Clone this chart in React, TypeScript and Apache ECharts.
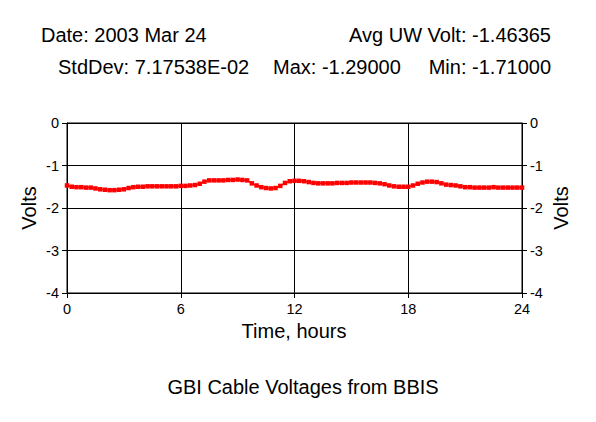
import React, { useEffect, useRef } from "react";
import * as echarts from "echarts";

const stepHours = 0.25;
const volts: number[] = [
  -1.47, -1.5, -1.51, -1.51, -1.52, -1.52, -1.54, -1.56, -1.57, -1.58, -1.58, -1.57, -1.56,
  -1.53, -1.51, -1.5, -1.5, -1.49, -1.49, -1.49, -1.49, -1.49, -1.49, -1.49, -1.48, -1.48,
  -1.47, -1.46, -1.43, -1.38, -1.35, -1.35, -1.35, -1.35, -1.34, -1.34, -1.33, -1.34, -1.35,
  -1.42, -1.47, -1.51, -1.53, -1.54, -1.53, -1.48, -1.41, -1.37, -1.36,
  -1.36, -1.37, -1.39, -1.41, -1.42, -1.42, -1.42, -1.42, -1.41, -1.41, -1.41, -1.4, -1.4,
  -1.4, -1.4, -1.4, -1.41, -1.42, -1.44, -1.47, -1.49, -1.5, -1.5, -1.5, -1.47, -1.43, -1.4,
  -1.38, -1.38, -1.39, -1.42, -1.45, -1.46, -1.47, -1.49, -1.51,
  -1.51, -1.52, -1.52, -1.52, -1.52, -1.51, -1.52, -1.52, -1.52, -1.52, -1.52, -1.52,
];
const xTicks = { min: 0, max: 24, interval: 6 };
const yTicks = { min: -4, max: 0, interval: 1 };
const headerLeft = ["Date: 2003 Mar 24", "StdDev: 7.17538E-02"];
const headerRight = ["Avg UW Volt: -1.46365", "Max: -1.29000", "Min: -1.71000"];
const xName = "Time, hours";
const yName = "Volts";
const chartTitle = "GBI Cable Voltages from BBIS";

const FONT = "Liberation Sans, Arial, Helvetica, sans-serif";

export default function App() {
  const ref = useRef<HTMLDivElement>(null);
  useEffect(() => {
    if (!ref.current) return;
    const chart = echarts.init(ref.current, null, { renderer: "svg" });
    const data = volts.map((v, i) => [i * stepHours, v]);
    const txt = (text: string, x: number, y: number, align: string, extra: any = {}) => ({
      type: "text",
      x,
      y,
      ...extra,
      style: { text, fill: "#000", font: `20px ${FONT}`, align, verticalAlign: "middle" },
    });
    const yAxisBase = {
      type: "value",
      min: yTicks.min,
      max: yTicks.max,
      interval: yTicks.interval,
      axisLine: { show: true, lineStyle: { color: "#000", width: 1 } },
      axisTick: { show: true, inside: false, length: 5, lineStyle: { color: "#000" } },
      axisLabel: { color: "#000", fontSize: 14.5, fontFamily: FONT, margin: 8 },
    };
    chart.setOption({
      animation: false,
      backgroundColor: "#fff",
      grid: {
        left: 67,
        right: 74,
        top: 123,
        bottom: 129,
        show: true,
        borderColor: "#000",
        borderWidth: 1,
        containLabel: false,
      },
      xAxis: {
        type: "value",
        min: xTicks.min,
        max: xTicks.max,
        interval: xTicks.interval,
        axisLine: { show: true, onZero: false, lineStyle: { color: "#000", width: 1 } },
        axisTick: { show: true, inside: false, length: 5, lineStyle: { color: "#000" } },
        axisLabel: { color: "#000", fontSize: 14.5, fontFamily: FONT, margin: 8 },
        splitLine: { show: true, lineStyle: { color: "#000", width: 1 } },
      },
      yAxis: [
        { ...yAxisBase, position: "left", splitLine: { show: true, lineStyle: { color: "#000", width: 1 } } },
        { ...yAxisBase, position: "right", splitLine: { show: false } },
      ],
      series: [
        {
          type: "line",
          data,
          yAxisIndex: 0,
          symbol: "rect",
          symbolSize: 4.5,
          showAllSymbol: true,
          itemStyle: { color: "#ff0000" },
          lineStyle: { color: "#ff0000", width: 1.5 },
        },
      ],
      graphic: [
        txt(headerLeft[0], 41, 34.5, "left"),
        txt(headerLeft[1], 58, 67, "left"),
        txt(headerRight[0], 551, 34.5, "right"),
        txt(headerRight[1], 273, 67, "left"),
        txt(headerRight[2], 551, 67, "right"),
        txt(xName, 294, 330.5, "center"),
        txt(chartTitle, 303, 387, "center"),
        txt(yName, 29, 208, "center", { rotation: Math.PI / 2 }),
        txt(yName, 561, 208, "center", { rotation: Math.PI / 2 }),
      ],
    });
    return () => chart.dispose();
  }, []);
  return <div ref={ref} style={{ width: 596, height: 422, position: "absolute", left: 0, top: 0 }} />;
}
